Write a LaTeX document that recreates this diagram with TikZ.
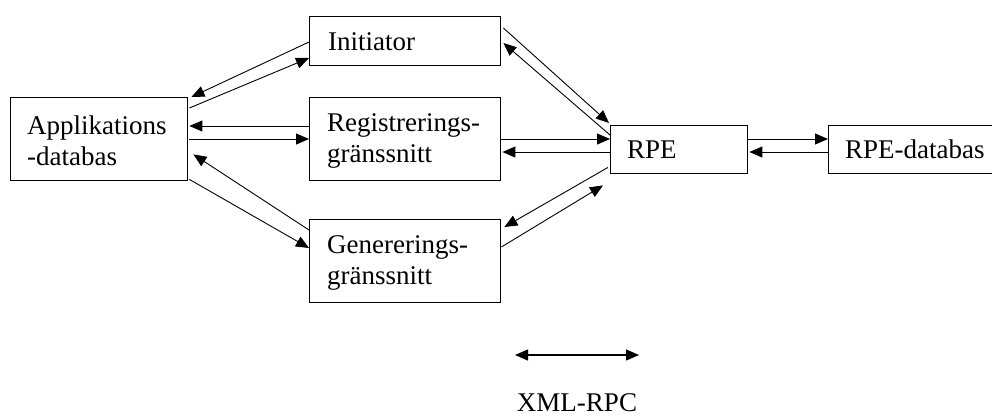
\documentclass[tikz,border=0pt]{standalone}
\usepackage{fontspec}
\setmainfont{Liberation Serif}
\usetikzlibrary{arrows.meta,calc}
\begin{document}
\begin{tikzpicture}[x=1bp,y=-1bp,
  box/.style={draw=black,line width=1.4bp,rectangle,anchor=north west,inner sep=0pt,
    minimum width=#1},
  lbl/.style={anchor=west,inner sep=0pt,align=left,font=\fontsize{27bp}{31bp}\selectfont},
  arr/.style={line width=0.9bp,-{Triangle[length=13bp,width=11bp]}},
  arrb/.style={line width=1.2bp,{Triangle[length=13bp,width=11bp]}-{Triangle[length=13bp,width=11bp]}}]
\useasboundingbox (0,0) rectangle (992,416);
\clip (0,0) rectangle (992,416);
% boxes
\node[box=177bp,minimum height=83bp] (appl) at (10,97) {};
\node[box=191bp,minimum height=49bp] (ini) at (309,16) {};
\node[box=191bp,minimum height=83bp] (reg) at (309,97) {};
\node[box=191bp,minimum height=83bp] (gen) at (309,219) {};
\node[box=137bp,minimum height=48bp] (rpe) at (610,125) {};
\node[box=180bp,minimum height=48bp] (rdb) at (828,125) {};
% labels
\node[lbl] (tappl) at ($(appl.west)+(17,2)$) {Applikations\\-databas};
\node[lbl] (tini) at ($(ini.west)+(19,0)$) {Initiator};
\node[lbl] (treg) at ($(reg.west)+(18,2)$) {Registrerings-\\gränssnitt};
\node[lbl] (tgen) at ($(gen.west)+(18,2)$) {Genererings-\\gränssnitt};
\node[lbl] (trpe) at ($(rpe.west)+(17,0)$) {RPE};
\node[lbl] (trdb) at ($(rdb.west)+(17,0)$) {RPE-databas};
% connectors Applikationsdatabas <-> Initiator
\draw[arr] ($(ini.north west)+(0,26)$) -- ($(appl.north east)+(3,0)$);
\draw[arr] ($(appl.north east)+(1,11)$) -- ($(ini.north west)+(0,42)$);
% Applikationsdatabas <-> Registrering
\draw[arr] ($(reg.north west)+(0,29)$) -- ($(appl.north east)+(1,29)$);
\draw[arr] ($(appl.north east)+(1,42)$) -- ($(reg.north west)+(0,42)$);
% Applikationsdatabas <-> Generering
\draw[arr] ($(gen.north west)+(0,11)$) -- ($(appl.south east)+(5,-27)$);
\draw[arr] ($(appl.south east)+(1,-2)$) -- ($(gen.north west)+(0,29)$);
% Initiator <-> RPE
\draw[arr] ($(ini.north east)+(2,12)$) -- ($(rpe.north west)+(-1,-2)$);
\draw[arr] ($(rpe.north west)+(0,10)$) -- ($(ini.north east)+(2,27)$);
% Registrering <-> RPE
\draw[arr] ($(reg.north east)+(0,42)$) -- ($(rpe.north west)+(0,14)$);
\draw[arr] ($(rpe.north west)+(0,27)$) -- ($(reg.north east)+(1,55)$);
% Generering <-> RPE
\draw[arr] ($(rpe.south west)+(-2,-7)$) -- ($(gen.north east)+(3,8)$);
\draw[arr] ($(gen.north east)+(0,28)$) -- ($(rpe.south west)+(-7,11)$);
% RPE <-> RPE-databas
\draw[arr] ($(rpe.north east)+(0,14)$) -- ($(rdb.north west)+(0,14)$);
\draw[arr] ($(rdb.north west)+(0,27)$) -- ($(rpe.north east)+(1,27)$);
% legend
\coordinate (xl) at (515,355);
\coordinate (xr) at (639,355);
\draw[arrb] (xl) -- (xr);
\node[font=\fontsize{27bp}{30bp}\selectfont,inner sep=0pt,anchor=base] (xml) at (577,411) {XML-RPC};
\end{tikzpicture}
\end{document}
